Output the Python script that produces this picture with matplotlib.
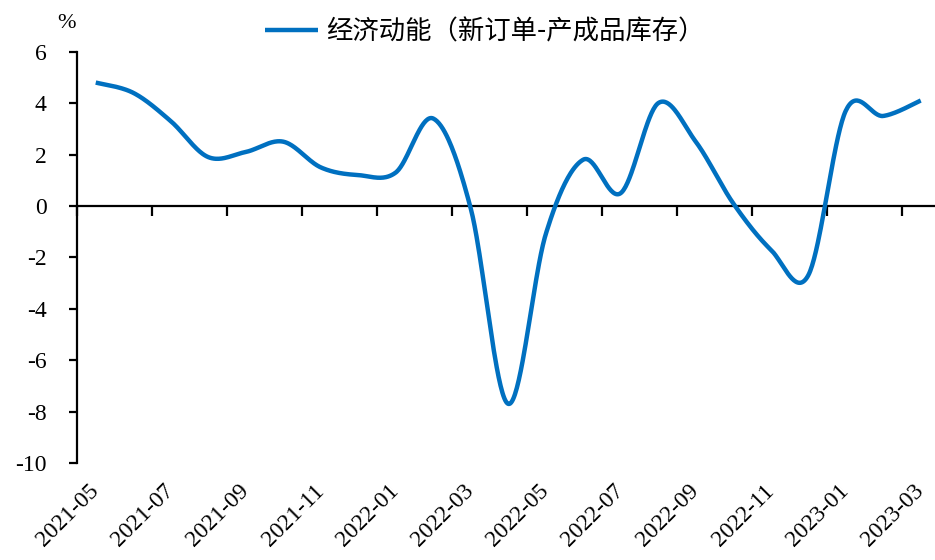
import numpy as np
import matplotlib.pyplot as plt

plt.rcParams['font.family'] = ['Liberation Serif', 'Noto Sans CJK SC']
plt.rcParams['axes.unicode_minus'] = False

# 月度数据：新订单指数 - 产成品库存指数
months = ['2021-05', '2021-06', '2021-07', '2021-08', '2021-09', '2021-10',
          '2021-11', '2021-12', '2022-01', '2022-02', '2022-03', '2022-04',
          '2022-05', '2022-06', '2022-07', '2022-08', '2022-09', '2022-10',
          '2022-11', '2022-12', '2023-01', '2023-02', '2023-03']
momentum = [4.8, 4.4, 3.3, 1.9, 2.1, 2.5, 1.5, 1.2, 1.3, 3.4, -0.1, -7.7,
            -1.1, 1.8, 0.5, 4.0, 2.5, 0.1, -1.7, -2.7, 3.7, 3.5, 4.1]
series_name = '经济动能（新订单-产成品库存）'
y_ticks = list(range(-10, 7, 2))


def smooth_curve(y, n=40):
    # 分段三次贝塞尔平滑（与 Excel 平滑线类似）
    pts = np.column_stack([np.arange(len(y)), y]).astype(float)
    ext = np.vstack([pts[0], pts, pts[-1]])
    t = np.linspace(0, 1, n)[:, None]
    out = []
    for i in range(len(pts) - 1):
        p0, p1, p2, p3 = ext[i], ext[i + 1], ext[i + 2], ext[i + 3]
        c1 = p1 + (p2 - p0) / 6
        c2 = p2 - (p3 - p1) / 6
        b = ((1 - t) ** 3 * p1 + 3 * (1 - t) ** 2 * t * c1
             + 3 * (1 - t) * t ** 2 * c2 + t ** 3 * p2)
        out.append(b if i == 0 else b[1:])
    return np.vstack(out)


fig = plt.figure(figsize=(9.35, 5.6), dpi=100)
ax = fig.add_axes([77 / 935, 1 - 463 / 560, 862.5 / 935, (463 - 51.7) / 560])

curve = smooth_curve(momentum)
ax.plot(curve[:, 0], curve[:, 1], color='#0070C0', lw=3.2, zorder=3,
        solid_capstyle='butt', label=series_name)

ax.set_xlim(-0.5, len(months) - 0.5)
ax.set_ylim(-10, 6)

# 零轴作为横轴线
ax.spines['top'].set_position(('data', 0))
ax.spines['right'].set_visible(False)
ax.spines['bottom'].set_visible(False)
for s in ['top', 'left']:
    ax.spines[s].set_linewidth(1.6)

ax.set_xticks(np.arange(-0.5, len(months) - 1, 2))
ax.set_xticks(np.arange(0, len(months), 2), labels=months[::2], minor=True)
ax.tick_params(axis='x', which='major', bottom=False, top=True,
               labelbottom=False, labeltop=False, direction='in',
               length=7, width=1.6)
ax.tick_params(axis='x', which='minor', bottom=True, top=False, length=0,
               labelbottom=True, labelsize=17, pad=18)
plt.setp(ax.get_xticklabels(minor=True), rotation=45, ha='right',
         va='center', rotation_mode='anchor')

ax.set_yticks(y_ticks)
ax.tick_params(axis='y', direction='out', length=6, width=1.6,
               labelsize=17, pad=16)

fig.text(66 / 935, 1 - 24 / 560, '%', ha='center', va='center', fontsize=16)

ax.legend(loc='center left', bbox_to_anchor=(265 / 935, 1 - 32 / 560),
          bbox_transform=fig.transFigure, frameon=False,
          prop={'family': 'Noto Sans CJK SC', 'size': 19},
          handlelength=2.0, handletextpad=0.3, borderpad=0, borderaxespad=0)

fig.savefig('out.png', dpi=100)
